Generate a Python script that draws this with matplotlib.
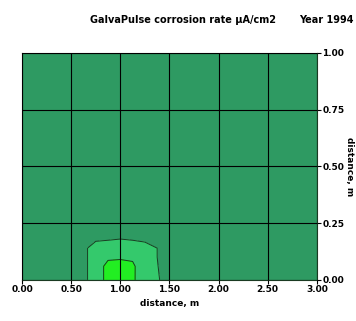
import numpy as np
import matplotlib
matplotlib.use("Agg")
import matplotlib.pyplot as plt

# grid of measurement positions (m) and corrosion rate (uA/cm2)
x_pos = [0.0, 0.5, 0.75, 0.875, 1.0, 1.125, 1.25, 1.5, 2.0, 2.5, 3.0]
y_pos = [0.0, 0.06, 0.1, 0.14, 0.2, 0.25, 0.5, 0.75, 1.0]
rate = [
    [0.0, 0.0, 1.5, 2.28, 3.0, 2.17, 1.33, 0.78, 0.0, 0.0, 0.0],
    [0.0, 0.0, 1.5, 2.28, 2.6, 2.17, 1.35, 0.7, 0.0, 0.0, 0.0],
    [0.0, 0.0, 1.5, 1.85, 1.8, 1.85, 1.4, 0.6, 0.0, 0.0, 0.0],
    [0.0, 0.0, 1.5, 1.55, 1.6, 1.55, 1.4, 0.6, 0.0, 0.0, 0.0],
    [0.0, 0.0, 0.5, 0.6, 0.7, 0.6, 0.5, 0.0, 0.0, 0.0, 0.0],
    [0.0, 0.0, 0.0, 0.0, 0.0, 0.0, 0.0, 0.0, 0.0, 0.0, 0.0],
    [0.0, 0.0, 0.0, 0.0, 0.0, 0.0, 0.0, 0.0, 0.0, 0.0, 0.0],
    [0.0, 0.0, 0.0, 0.0, 0.0, 0.0, 0.0, 0.0, 0.0, 0.0, 0.0],
    [0.0, 0.0, 0.0, 0.0, 0.0, 0.0, 0.0, 0.0, 0.0, 0.0, 0.0],
]
levels = [-1.0, 1.0, 2.0, 4.0]
colours = ["#2e9a62", "#34c96c", "#22ee22"]

xticks = [0.0, 0.5, 1.0, 1.5, 2.0, 2.5, 3.0]
yticks = [0.0, 0.25, 0.5, 0.75, 1.0]

font = dict(family="Liberation Sans Narrow", weight="bold", size=6.5)
title_font = dict(family="Liberation Sans Narrow", weight="bold", size=7)

fig = plt.figure(figsize=(3.56, 3.21), dpi=100)
ax = fig.add_axes([0.062, 0.128, 0.828, 0.707])

X, Y = np.meshgrid(x_pos, y_pos)
Z = np.array(rate)
ax.contourf(X, Y, Z, levels=levels, colors=colours)
ax.contour(X, Y, Z, levels=levels[1:-1], colors="#1a3a22", linewidths=0.7)

ax.set_xlim(0, 3)
ax.set_ylim(0, 1)
ax.set_xticks(xticks)
ax.set_yticks(yticks)
ax.set_xticklabels(["%.2f" % v for v in xticks], **font)
ax.set_yticklabels(["%.2f" % v for v in yticks], **font)
ax.yaxis.tick_right()
ax.yaxis.set_label_position("right")
ax.tick_params(length=3, width=0.8, pad=1, colors="black")
ax.grid(True, color="black", linewidth=0.8)
ax.set_axisbelow(False)
for s in ax.spines.values():
    s.set_linewidth(0.8)
    s.set_color("#1a3a22")

ax.set_xlabel("distance, m", labelpad=3, **font)
ax.set_ylabel("distance, m", rotation=-90, labelpad=7, **font)

fig.text(0.515, 0.937, "GalvaPulse corrosion rate \u00b5A/cm2", ha="center",
         va="center", **title_font)
fig.text(0.84, 0.937, "Year 1994", ha="left", va="center", **title_font)

fig.savefig("out.png", dpi=100)
